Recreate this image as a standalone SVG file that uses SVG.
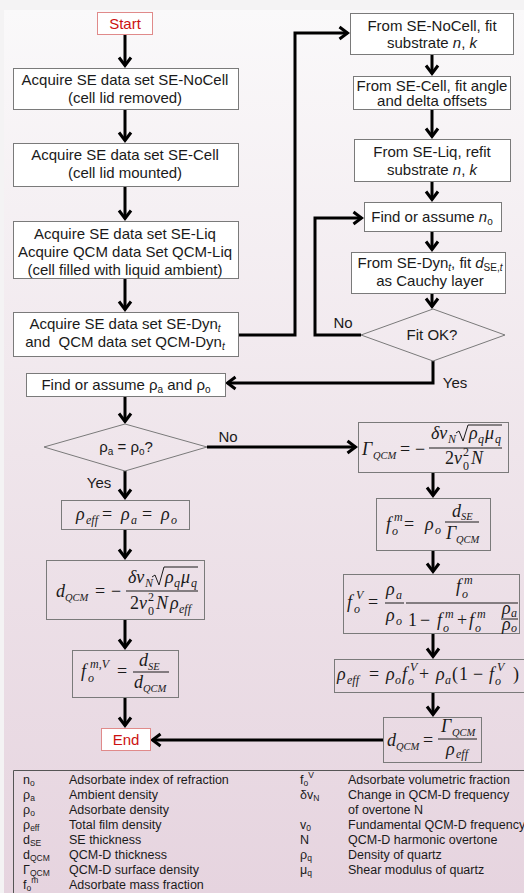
<svg xmlns="http://www.w3.org/2000/svg" width="524" height="893" viewBox="0 0 524 893">
<defs>
<linearGradient id="bg" x1="0" y1="0" x2="0" y2="1">
<stop offset="0" stop-color="#faf9fa"/>
<stop offset="0.5" stop-color="#efe5eb"/>
<stop offset="1" stop-color="#e6d4df"/>
</linearGradient>
<marker id="ah" viewBox="-12 -8 16 16" refX="0" refY="0" markerWidth="16" markerHeight="16" markerUnits="userSpaceOnUse" orient="auto">
<path d="M-8,-6 L0,0 L-8,6" fill="none" stroke="#000" stroke-width="3" stroke-linejoin="miter"/>
</marker>
<style>
.bx{fill:#fff;stroke:#7a7a7a;stroke-width:1}
.fx{fill:none;stroke:#7a7a7a;stroke-width:1}
.se{fill:#fff;stroke:#e08a8a;stroke-width:1}
.t{font-family:"Liberation Sans",Arial,sans-serif;font-size:15px;fill:#1a1a1a;text-anchor:middle}
.r{fill:#cc1111}
.i{font-style:italic}
.lg{font-family:"Liberation Sans",Arial,sans-serif;font-size:12.5px;fill:#1a1a1a}
.m{font-family:"Liberation Serif","DejaVu Serif",serif;font-style:italic;font-size:18px;fill:#1a1a1a}
.s{font-size:12px}
.q{font-size:10.5px}
.u{font-style:normal}
.bar{stroke:#1a1a1a;stroke-width:1;fill:none}
.con{fill:none;stroke:#000;stroke-width:3;stroke-linejoin:miter;marker-end:url(#ah)}
.leg{fill:none;stroke:#555;stroke-width:1}
</style>
</defs>
<rect x="0" y="0" width="524" height="893" fill="#f4f3f4"/>
<rect x="4" y="10" width="520" height="883" fill="url(#bg)"/>

<g id="connectors">
<path class="con" d="M125,35 V65.5"/>
<path class="con" d="M125,109 V140.5"/>
<path class="con" d="M125,187 V218.5"/>
<path class="con" d="M125,279 V309.5"/>
<path class="con" d="M238,335 H295 V33 H347.5"/>
<path class="con" d="M432,54 V73.5"/>
<path class="con" d="M432,110 V136.5"/>
<path class="con" d="M432,182 V199.5"/>
<path class="con" d="M432,232 V249.5"/>
<path class="con" d="M432,294 V306.5"/>
<path class="con" d="M361,335 H315 V218 H361.5"/>
<path class="con" d="M433,361 V383 H227.5"/>
<path class="con" d="M125,396 V421.5"/>
<path class="con" d="M207,447 H355.5"/>
<path class="con" d="M125,471 V497.5"/>
<path class="con" d="M125,530 V557.5"/>
<path class="con" d="M125,620 V647.5"/>
<path class="con" d="M125,698 V725.5"/>
<path class="con" d="M433,473 V495.5"/>
<path class="con" d="M433,551 V571.5"/>
<path class="con" d="M433,634 V656.5"/>
<path class="con" d="M433,693 V714.5"/>
<path class="con" d="M383,740 H152.5"/>
<text class="t" x="343" y="328">No</text>
<text class="t" x="455" y="388">Yes</text>
<text class="t" x="228" y="442">No</text>
<text class="t" x="99" y="488">Yes</text>
</g>

<g id="start">
<rect class="se" x="97.5" y="12.5" width="55" height="22"/>
<text class="t r" x="125" y="29">Start</text>
</g>
<g id="acq-nocell">
<rect class="bx" x="13.5" y="68.5" width="225" height="41"/>
<text class="t" x="125" y="85">Acquire SE data set SE-NoCell</text>
<text class="t" x="125" y="102.5">(cell lid removed)</text>
</g>
<g id="acq-cell">
<rect class="bx" x="13.5" y="143.5" width="225" height="43"/>
<text class="t" x="125" y="160">Acquire SE data set SE-Cell</text>
<text class="t" x="125" y="177.5">(cell lid mounted)</text>
</g>
<g id="acq-liq">
<rect class="bx" x="13.5" y="221.5" width="225" height="57"/>
<text class="t" x="125" y="239">Acquire SE data set SE-Liq</text>
<text class="t" x="125" y="257">Acquire QCM data Set QCM-Liq</text>
<text class="t" x="125" y="275">(cell filled with liquid ambient)</text>
</g>
<g id="acq-dyn">
<rect class="bx" x="13.5" y="312.5" width="225" height="44"/>
<text class="t" x="125" y="329">Acquire SE data set SE-Dyn<tspan class="i" font-size="10" dy="3">t</tspan></text>
<text class="t" x="125" y="347" xml:space="preserve">and  QCM data set QCM-Dyn<tspan class="i" font-size="10" dy="3">t</tspan></text>
</g>
<g id="find-rho">
<rect class="bx" x="26.5" y="373.5" width="199" height="23"/>
<text class="t" x="126" y="390">Find or assume ρ<tspan font-size="10" dy="3">a</tspan><tspan dy="-3"> and ρ</tspan><tspan font-size="10" dy="3">o</tspan></text>
</g>
<g id="rho-equal">
<polygon class="fx" points="125,424 207,447 125,471 44,447"/>
<text class="t" x="126" y="452">ρ<tspan font-size="10" dy="3">a</tspan><tspan dy="-3"> = ρ</tspan><tspan font-size="10" dy="3">o</tspan><tspan dy="-3">?</tspan></text>
</g>
<g id="rho-eff-equal">
<rect class="fx" x="61.5" y="500.5" width="128" height="29"/>
<text class="m"><tspan x="76" y="520">ρ</tspan><tspan class="s" x="86" y="524">eff</tspan><tspan class="u" x="102" y="520">=</tspan><tspan x="121" y="520">ρ</tspan><tspan class="s" x="131" y="524">a</tspan><tspan class="u" x="142" y="520">=</tspan><tspan x="161" y="520">ρ</tspan><tspan class="s" x="171" y="524">o</tspan></text>
</g>
<g id="dqcm-left">
<rect class="fx" x="46.5" y="560.5" width="158" height="59"/>
<line class="bar" x1="126" y1="591" x2="198" y2="591"/>
<path class="bar" d="M152,577 L155,575 L159,585 L164,567 L198,567"/>
<text class="m"><tspan x="56" y="597">d</tspan><tspan class="q" x="65" y="601">QCM</tspan><tspan class="u" x="95" y="597">=</tspan><tspan class="u" x="111" y="597">−</tspan><tspan x="128" y="583">δν</tspan><tspan class="s" x="145" y="587">N</tspan><tspan x="165" y="583">ρ</tspan><tspan class="s" x="174" y="587">q</tspan><tspan x="181" y="583">μ</tspan><tspan class="s" x="191" y="587">q</tspan><tspan class="u" x="130" y="609">2</tspan><tspan x="139" y="609">ν</tspan><tspan class="s u" x="148" y="601">2</tspan><tspan class="s u" x="148" y="615">0</tspan><tspan x="156" y="609">N</tspan><tspan x="170" y="609">ρ</tspan><tspan class="s" x="179" y="613">eff</tspan></text>
</g>
<g id="fmv">
<rect class="fx" x="72.5" y="650.5" width="106" height="47"/>
<line class="bar" x1="133" y1="672" x2="169" y2="672"/>
<text class="m"><tspan x="81" y="677">f</tspan><tspan class="s" x="90" y="668">m,V</tspan><tspan class="s" x="88" y="682">o</tspan><tspan class="u" x="117" y="677">=</tspan><tspan x="139" y="666">d</tspan><tspan class="q" x="148" y="670">SE</tspan><tspan x="134" y="688">d</tspan><tspan class="q" x="143" y="692">QCM</tspan></text>
</g>
<g id="end">
<rect class="se" x="101.5" y="728.5" width="49" height="22"/>
<text class="t r" x="126" y="745">End</text>
</g>

<g id="fit-nocell">
<rect class="bx" x="350.5" y="13.5" width="163" height="41"/>
<text class="t" x="432" y="30.5">From SE-NoCell, fit</text>
<text class="t" x="432" y="48">substrate <tspan class="i">n</tspan>, <tspan class="i">k</tspan></text>
</g>
<g id="fit-cell">
<rect class="bx" x="353.5" y="76.5" width="157" height="33"/>
<text class="t" x="432" y="91">From SE-Cell, fit angle</text>
<text class="t" x="432" y="106">and delta offsets</text>
</g>
<g id="fit-liq">
<rect class="bx" x="354.5" y="139.5" width="156" height="42"/>
<text class="t" x="432" y="156.5">From SE-Liq, refit</text>
<text class="t" x="432" y="174.5">substrate <tspan class="i">n</tspan>, <tspan class="i">k</tspan></text>
</g>
<g id="find-no">
<rect class="bx" x="364.5" y="202.5" width="137" height="29"/>
<text class="t" x="432" y="222">Find or assume <tspan class="i">n</tspan><tspan font-size="10" dy="3">o</tspan></text>
</g>
<g id="fit-dyn">
<rect class="bx" x="351.5" y="252.5" width="154" height="41"/>
<text class="t" x="430" y="268">From SE-Dyn<tspan class="i" font-size="10" dy="3">t</tspan><tspan dy="-3">, fit </tspan><tspan class="i">d</tspan><tspan font-size="10" dy="3">SE,</tspan><tspan class="i" font-size="10">t</tspan></text>
<text class="t" x="430" y="286">as Cauchy layer</text>
</g>
<g id="fit-ok">
<polygon class="fx" points="433,309 505,335 433,361 361,335"/>
<text class="t" x="432" y="340">Fit OK?</text>
</g>
<g id="gamma">
<rect class="fx" x="358.5" y="422.5" width="150" height="50"/>
<line class="bar" x1="429" y1="448" x2="502" y2="448"/>
<path class="bar" d="M456,433 L459,431 L463,441 L468,425 L502,425"/>
<text class="m"><tspan x="362" y="455">Γ</tspan><tspan class="q" x="373" y="459">QCM</tspan><tspan class="u" x="400" y="455">=</tspan><tspan class="u" x="415" y="455">−</tspan><tspan x="431" y="439">δν</tspan><tspan class="s" x="448" y="443">N</tspan><tspan x="469" y="439">ρ</tspan><tspan class="s" x="478" y="443">q</tspan><tspan x="485" y="439">μ</tspan><tspan class="s" x="495" y="443">q</tspan><tspan class="u" x="445" y="464">2</tspan><tspan x="454" y="464">ν</tspan><tspan class="s u" x="463" y="456">2</tspan><tspan class="s u" x="463" y="470">0</tspan><tspan x="471" y="464">N</tspan></text>
</g>
<g id="fm">
<rect class="fx" x="376.5" y="498.5" width="114" height="52"/>
<line class="bar" x1="445" y1="522" x2="479" y2="522"/>
<text class="m"><tspan x="386" y="530">f</tspan><tspan class="s" x="394" y="521">m</tspan><tspan class="s" x="392" y="535">o</tspan><tspan class="u" x="404" y="530">=</tspan><tspan x="425" y="530">ρ</tspan><tspan class="s" x="435" y="534">o</tspan><tspan x="452" y="516.5">d</tspan><tspan class="q" x="461" y="520">SE</tspan><tspan x="446" y="539">Γ</tspan><tspan class="q" x="456" y="543">QCM</tspan></text>
</g>
<g id="fv">
<rect class="fx" x="343.5" y="574.5" width="176" height="59"/>
<line class="bar" x1="385" y1="603" x2="404" y2="603"/>
<line class="bar" x1="406" y1="603" x2="518" y2="603"/>
<line class="bar" x1="501" y1="619" x2="518" y2="619"/>
<text class="m"><tspan x="347" y="608">f</tspan><tspan class="s" x="356" y="599">V</tspan><tspan class="s" x="354" y="613">o</tspan><tspan class="u" x="368" y="608">=</tspan><tspan x="386" y="595">ρ</tspan><tspan class="s" x="396" y="599">a</tspan><tspan x="386" y="621">ρ</tspan><tspan class="s" x="396" y="625">o</tspan><tspan x="456" y="592">f</tspan><tspan class="s" x="464" y="584">m</tspan><tspan class="s" x="462" y="598">o</tspan><tspan class="u" x="408" y="626">1</tspan><tspan class="u" x="420" y="626">−</tspan><tspan x="437" y="626">f</tspan><tspan class="s" x="445" y="618">m</tspan><tspan class="s" x="443" y="632">o</tspan><tspan class="u" x="457" y="626">+</tspan><tspan x="469" y="626">f</tspan><tspan class="s" x="477" y="618">m</tspan><tspan class="s" x="475" y="632">o</tspan><tspan x="502" y="614">ρ</tspan><tspan class="s" x="511" y="617">a</tspan><tspan x="502" y="630">ρ</tspan><tspan class="s" x="511" y="632">o</tspan></text>
</g>
<g id="rho-eff-mix">
<rect class="fx" x="334.5" y="659.5" width="200" height="33"/>
<text class="m"><tspan x="337" y="680">ρ</tspan><tspan class="s" x="347" y="684">eff</tspan><tspan class="u" x="369" y="680">=</tspan><tspan x="386" y="680">ρ</tspan><tspan class="s" x="395" y="684">o</tspan><tspan x="402" y="680">f</tspan><tspan class="s" x="410" y="671">V</tspan><tspan class="s" x="408" y="685">o</tspan><tspan class="u" x="419" y="680">+</tspan><tspan x="436" y="680">ρ</tspan><tspan class="s" x="445" y="684">a</tspan><tspan class="u" x="452" y="680">(</tspan><tspan class="u" x="459" y="680">1</tspan><tspan class="u" x="473" y="680">−</tspan><tspan x="489" y="680">f</tspan><tspan class="s" x="497" y="671">V</tspan><tspan class="s" x="495" y="685">o</tspan><tspan class="u" x="513" y="680">)</tspan></text>
</g>
<g id="dqcm-right">
<rect class="fx" x="383.5" y="717.5" width="98" height="45"/>
<line class="bar" x1="438" y1="739" x2="477" y2="739"/>
<text class="m"><tspan x="387" y="746">d</tspan><tspan class="q" x="396" y="750">QCM</tspan><tspan class="u" x="423" y="746">=</tspan><tspan x="441" y="732">Γ</tspan><tspan class="q" x="452" y="736">QCM</tspan><tspan x="446" y="755">ρ</tspan><tspan class="s" x="456" y="758">eff</tspan></text>
</g>

<g id="legend">
<path class="leg" d="M13.5,893 V770.5 H524"/>
<text class="lg" x="23" y="783.5">n<tspan font-size="8.5" dy="2.5">o</tspan></text>
<text class="lg" x="69" y="783.5">Adsorbate index of refraction</text>
<text class="lg" x="23" y="798.5">ρ<tspan font-size="8.5" dy="2.5">a</tspan></text>
<text class="lg" x="69" y="798.5">Ambient density</text>
<text class="lg" x="23" y="813.5">ρ<tspan font-size="8.5" dy="2.5">o</tspan></text>
<text class="lg" x="69" y="813.5">Adsorbate density</text>
<text class="lg" x="23" y="828.5">ρ<tspan font-size="8.5" dy="2.5">eff</tspan></text>
<text class="lg" x="69" y="828.5">Total film density</text>
<text class="lg" x="23" y="843.5">d<tspan font-size="8.5" dy="2.5">SE</tspan></text>
<text class="lg" x="69" y="843.5">SE thickness</text>
<text class="lg" x="23" y="858.5">d<tspan font-size="8.5" dy="2.5">QCM</tspan></text>
<text class="lg" x="69" y="858.5">QCM-D thickness</text>
<text class="lg" x="23" y="873.5">Γ<tspan font-size="8.5" dy="2.5">QCM</tspan></text>
<text class="lg" x="69" y="873.5">QCM-D surface density</text>
<text class="lg" x="23" y="888.5">f<tspan font-size="8.5" dy="2.5">o</tspan><tspan font-size="8.5" dy="-8">m</tspan></text>
<text class="lg" x="69" y="888.5">Adsorbate mass fraction</text>
<text class="lg" x="300" y="783.5">f<tspan font-size="8.5" dy="2.5">o</tspan><tspan font-size="8.5" dy="-8">V</tspan></text>
<text class="lg" x="348" y="783.5">Adsorbate volumetric fraction</text>
<text class="lg" x="300" y="798.5">δv<tspan font-size="8.5" dy="2.5">N</tspan></text>
<text class="lg" x="348" y="798.5">Change in QCM-D frequency</text>
<text class="lg" x="348" y="813.5">of overtone N</text>
<text class="lg" x="300" y="828.5">v<tspan font-size="8.5" dy="2.5">0</tspan></text>
<text class="lg" x="348" y="828.5">Fundamental QCM-D frequency</text>
<text class="lg" x="300" y="843.5">N</text>
<text class="lg" x="348" y="843.5">QCM-D harmonic overtone</text>
<text class="lg" x="300" y="858.5">ρ<tspan font-size="8.5" dy="2.5">q</tspan></text>
<text class="lg" x="348" y="858.5">Density of quartz</text>
<text class="lg" x="300" y="873.5">μ<tspan font-size="8.5" dy="2.5">q</tspan></text>
<text class="lg" x="348" y="873.5">Shear modulus of quartz</text>
</g>
</svg>
